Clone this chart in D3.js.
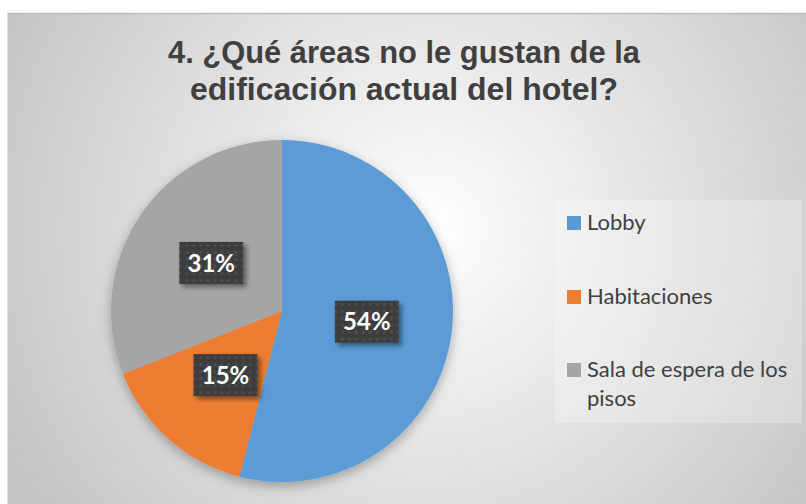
<!DOCTYPE html>
<html>
<head>
<meta charset="utf-8">
<script src="https://cdn.jsdelivr.net/npm/d3@7"></script>
<style>
  html, body { margin: 0; padding: 0; background: #fff; }
  svg { display: block; }
</style>
</head>
<body>
<svg width="806" height="504"></svg>
<script>
// datos del grafico
const categorias = ['Lobby', 'Habitaciones', 'Sala de espera de los pisos'];
const valores = [54, 15, 31];
const colores = ['#5B9BD5', '#ED7D31', '#A5A5A5'];
const titulo = ['4. ¿Qué áreas no le gustan de la', 'edificación actual del hotel?'];
const lineasLeyenda = [['Lobby'], ['Habitaciones'], ['Sala de espera de los', 'pisos']];

const svg = d3.select('svg');
const defs = svg.append('defs');

// fondo con degradado radial
const grad = defs.append('radialGradient')
    .attr('id', 'fondo')
    .attr('gradientUnits', 'userSpaceOnUse')
    .attr('cx', 430).attr('cy', 230).attr('r', 470);
grad.append('stop').attr('offset', '0%').attr('stop-color', '#ffffff');
grad.append('stop').attr('offset', '100%').attr('stop-color', '#c6c6c6');

// sombra del pastel
const sombra = defs.append('filter').attr('id', 'sombra')
    .attr('x', '-20%').attr('y', '-20%').attr('width', '140%').attr('height', '140%');
sombra.append('feDropShadow').attr('dx', 0).attr('dy', 4).attr('stdDeviation', 6)
    .attr('flood-color', '#000').attr('flood-opacity', 0.3);

// sombra de etiquetas
const sombraEt = defs.append('filter').attr('id', 'sombraEt')
    .attr('x', '-30%').attr('y', '-30%').attr('width', '160%').attr('height', '160%');
sombraEt.append('feDropShadow').attr('dx', 3).attr('dy', 3).attr('stdDeviation', 2.5)
    .attr('flood-color', '#000').attr('flood-opacity', 0.45);

// textura punteada de las etiquetas
const pat = defs.append('pattern').attr('id', 'puntos')
    .attr('patternUnits', 'userSpaceOnUse').attr('width', 7).attr('height', 7);
pat.append('rect').attr('width', 7).attr('height', 7).attr('fill', '#3d3d3d');
pat.append('circle').attr('cx', 3.5).attr('cy', 3.5).attr('r', 1.6).attr('fill', '#4e4e4e');

// area del grafico
svg.append('rect').attr('x', 7).attr('y', 13).attr('width', 806).attr('height', 500)
    .attr('fill', 'url(#fondo)');
svg.append('line').attr('x1', 7).attr('x2', 806).attr('y1', 13.5).attr('y2', 13.5)
    .attr('stroke', '#bdbdbd').attr('stroke-width', 1.5);
svg.append('line').attr('x1', 7.5).attr('x2', 7.5).attr('y1', 13).attr('y2', 504)
    .attr('stroke', '#e0e0e0').attr('stroke-width', 1);

// titulo
svg.append('g').selectAll('text').data(titulo).enter()
    .append('text')
    .attr('x', 404)
    .attr('y', (d, i) => 63 + i * 37)
    .attr('text-anchor', 'middle')
    .attr('font-family', 'Liberation Sans, Arial, sans-serif')
    .attr('font-weight', 'bold')
    .attr('font-size', 32)
    .attr('fill', '#404040')
    .attr('textLength', (d, i) => i === 0 ? 472 : 428)
    .attr('lengthAdjust', 'spacingAndGlyphs')
    .text(d => d);

// pastel
const cx = 282, cy = 311, radio = 171;
const pie = d3.pie().sort(null).value(d => d);
const arcos = pie(valores);
const arco = d3.arc().innerRadius(0).outerRadius(radio);
const arcoEt = d3.arc().innerRadius(radio * 0.5).outerRadius(radio * 0.5);

const gPie = svg.append('g').attr('transform', `translate(${cx},${cy})`);
gPie.append('g').attr('filter', 'url(#sombra)')
    .selectAll('path').data(arcos).enter()
    .append('path')
    .attr('d', arco)
    .attr('fill', (d, i) => colores[i]);

// etiquetas de porcentaje
const total = d3.sum(valores);
const etiquetas = gPie.selectAll('g.etiqueta').data(arcos).enter()
    .append('g')
    .attr('class', 'etiqueta')
    .attr('transform', d => `translate(${arcoEt.centroid(d)})`);
etiquetas.append('rect')
    .attr('x', -32).attr('y', -21).attr('width', 64).attr('height', 42)
    .attr('fill', 'url(#puntos)')
    .attr('filter', 'url(#sombraEt)');
etiquetas.append('text')
    .attr('text-anchor', 'middle')
    .attr('dy', '0.36em')
    .attr('font-family', 'Lato, "Open Sans", sans-serif')
    .attr('font-weight', 'bold')
    .attr('font-size', 24)
    .attr('fill', '#ffffff')
    .text(d => Math.round(d.data / total * 100) + '%');

// leyenda
svg.append('rect').attr('x', 555).attr('y', 200).attr('width', 247).attr('height', 223)
    .attr('fill', '#ffffff').attr('fill-opacity', 0.25);
const posLeyenda = [216, 290, 363];
const leyenda = svg.append('g').selectAll('g').data(categorias).enter()
    .append('g')
    .attr('transform', (d, i) => `translate(567,${posLeyenda[i]})`);
leyenda.append('rect')
    .attr('width', 14).attr('height', 14)
    .attr('fill', (d, i) => colores[i]);
leyenda.append('g').selectAll('text').data((d, i) => lineasLeyenda[i]).enter()
    .append('text')
    .attr('x', 20)
    .attr('y', (d, j) => 14 + j * 29)
    .attr('font-family', 'Lato, "Open Sans", sans-serif')
    .attr('font-size', 22)
    .attr('fill', '#404040')
    .text(d => d);
</script>
</body>
</html>
